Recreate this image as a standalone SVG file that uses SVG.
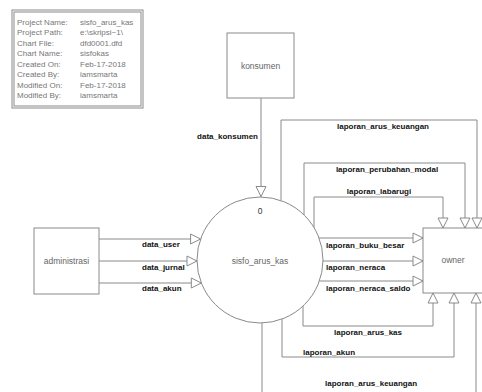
<svg xmlns="http://www.w3.org/2000/svg" width="482" height="392" viewBox="0 0 482 392">
<style>
.box{fill:#fff;stroke:#8a8a8a;stroke-width:1}
.ln{fill:none;stroke:#8a8a8a;stroke-width:1;marker-end:url(#arr)}
.nt{font-family:"Liberation Sans",Arial,sans-serif;font-size:8.5px;fill:#666;text-anchor:middle}
.ct{font-family:"Liberation Sans",Arial,sans-serif;font-size:8px;font-weight:bold;fill:#111}
.mt{font-family:"Liberation Sans",Arial,sans-serif;font-size:8px;fill:#777}
.mid{text-anchor:middle}
.end{text-anchor:end}
</style>
<defs>
<marker id="arr" markerUnits="userSpaceOnUse" markerWidth="12" markerHeight="12" refX="10" refY="5" orient="auto" viewBox="-1 -1 12 12">
<path d="M0,0 L10,5 L0,10 Z" fill="#fff" stroke="#8a8a8a" stroke-width="1"/>
</marker>
</defs>
<rect width="482" height="392" fill="#fff"/>
<g id="metadata">
<rect class="box" x="12" y="10" width="131" height="98"/>
<rect class="box" x="14" y="12" width="127" height="94"/>
<text class="mt" x="17" y="24.5">Project Name:</text><text class="mt" x="80" y="24.5">sisfo_arus_kas</text>
<text class="mt" x="17" y="35">Project Path:</text><text class="mt" x="80" y="35">e:\skripsi~1\</text>
<text class="mt" x="17" y="45.5">Chart File:</text><text class="mt" x="80" y="45.5">dfd0001.dfd</text>
<text class="mt" x="17" y="56">Chart Name:</text><text class="mt" x="80" y="56">sisfokas</text>
<text class="mt" x="17" y="66.5">Created On:</text><text class="mt" x="80" y="66.5">Feb-17-2018</text>
<text class="mt" x="17" y="77">Created By:</text><text class="mt" x="80" y="77">iamsmarta</text>
<text class="mt" x="17" y="87.5">Modified On:</text><text class="mt" x="80" y="87.5">Feb-17-2018</text>
<text class="mt" x="17" y="98">Modified By:</text><text class="mt" x="80" y="98">iamsmarta</text>
</g>
<g id="connectors">
<path class="ln" d="M261,98 V196.5"/>
<path class="ln" d="M99,239 H200.6"/>
<path class="ln" d="M99,261 H197"/>
<path class="ln" d="M99,283 H201.3"/>
<path class="ln" d="M319,238 H423"/>
<path class="ln" d="M323,261 H423"/>
<path class="ln" d="M319.4,281 H423"/>
<path class="ln" d="M303,306 V326 H433 V293"/>
<path class="ln" d="M282,319 V357 H454 V293"/>
<path class="ln" d="M262,323 V396 H476 V293"/>
<path class="ln" d="M281,200.6 V120 H477 V228"/>
<path class="ln" d="M304,215 V163 H465 V228"/>
<path class="ln" d="M314,227.6 V197 H443 V228"/>
<text class="ct end" x="258" y="139">data_konsumen</text>
<text class="ct" x="142" y="247">data_user</text>
<text class="ct" x="142" y="270">data_jurnal</text>
<text class="ct" x="142" y="291">data_akun</text>
<text class="ct" x="326" y="248">laporan_buku_besar</text>
<text class="ct" x="326" y="270">laporan_neraca</text>
<text class="ct" x="326" y="291">laporan_neraca_saldo</text>
<text class="ct mid" x="368" y="335">laporan_arus_kas</text>
<text class="ct" x="303" y="355">laporan_akun</text>
<text class="ct" x="325" y="386">laporan_arus_keuangan</text>
<text class="ct mid" x="383" y="129">laporan_arus_keuangan</text>
<text class="ct mid" x="387" y="172">laporan_perubahan_modal</text>
<text class="ct mid" x="379" y="194">laporan_labarugi</text>
</g>
<g id="konsumen">
<rect class="box" x="227" y="33" width="67" height="65"/>
<text class="nt" x="260.5" y="69">konsumen</text>
</g>
<g id="administrasi">
<rect class="box" x="34" y="228" width="65" height="66"/>
<text class="nt" x="66.5" y="264">administrasi</text>
</g>
<g id="proses">
<circle class="box" cx="260" cy="260" r="63"/>
<text class="nt" x="260" y="214" style="fill:#333">0</text>
<text class="nt" x="260" y="264">sisfo_arus_kas</text>
</g>
<g id="owner">
<rect class="box" x="423" y="228" width="62" height="65"/>
<text class="nt" x="453" y="263">owner</text>
</g>
</svg>
